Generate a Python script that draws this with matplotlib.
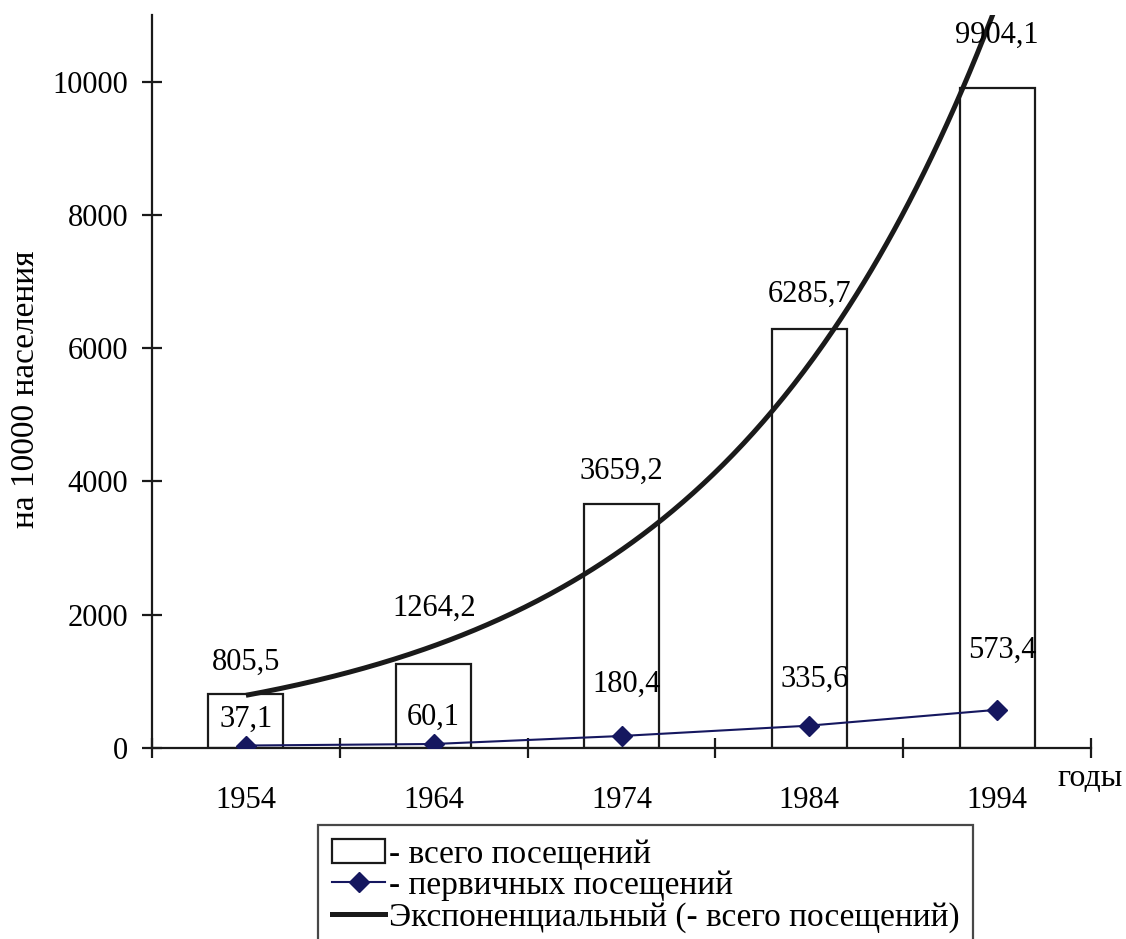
import numpy as np
import matplotlib
matplotlib.use('Agg')
import matplotlib.pyplot as plt
from matplotlib.patches import Rectangle
from matplotlib.lines import Line2D

plt.rcParams['font.family'] = ['Liberation Serif', 'DejaVu Serif']

# data
years = ['1954', '1964', '1974', '1984', '1994']
total_visits = [805.5, 1264.2, 3659.2, 6285.7, 9904.1]
primary_visits = [37.1, 60.1, 180.4, 335.6, 573.4]
total_labels = ['805,5', '1264,2', '3659,2', '6285,7', '9904,1']
primary_labels = ['37,1', '60,1', '180,4', '335,6', '573,4']

# label offsets in points (manual placement as in the original)
total_off = [(0, 23), (0, 40), (0, 24), (0, 25), (0, 38)]
primary_off = [(0, 19), (0, 19), (4, 37), (4, 33), (4, 43)]

NAVY = '#15175f'
INK = '#1a1a1a'

fig = plt.figure(figsize=(11.26, 9.39), dpi=100)
ax = fig.add_axes([152 / 1126, 1 - 748 / 939, (1091 - 152) / 1126, (748 - 15) / 939])

x = np.arange(1, len(years) + 1)

ax.bar(x, total_visits, width=0.4, color='white', edgecolor=INK, linewidth=1.6, zorder=2)
ax.plot(x, primary_visits, color=NAVY, linewidth=1.5, marker='D', markersize=10,
        markerfacecolor=NAVY, markeredgecolor=NAVY, zorder=4)

# exponential trendline (least squares fit on ln y, like Excel)
b, ln_a = np.polyfit(x, np.log(total_visits), 1)
xt = np.linspace(1, 5, 300)
ax.plot(xt, np.exp(ln_a) * np.exp(b * xt), color=INK, linewidth=3.6, zorder=3,
        solid_capstyle='butt')

for xi, v, lab, off in zip(x, total_visits, total_labels, total_off):
    ax.annotate(lab, (xi, v), xytext=off, textcoords='offset points',
                ha='center', va='center', fontsize=22, zorder=5)
for xi, v, lab, off in zip(x, primary_visits, primary_labels, primary_off):
    ax.annotate(lab, (xi, v), xytext=off, textcoords='offset points',
                ha='center', va='center', fontsize=22, zorder=5)

ax.set_xlim(0.5, 5.5)
ax.set_ylim(0, 11000)
ax.set_yticks(np.arange(0, 10001, 2000))
ax.set_xticks(np.arange(0.5, 5.6, 1))
ax.set_xticklabels([])
ax.set_xticks(x, minor=True)
ax.set_xticklabels(years, minor=True)

ax.tick_params(axis='both', which='major', direction='inout', length=14.5, width=1.6,
               labelsize=22, color=INK)
ax.tick_params(axis='y', which='major', pad=10)
ax.tick_params(axis='x', which='minor', length=0, pad=27, labelsize=22)

for s in ['top', 'right']:
    ax.spines[s].set_visible(False)
for s in ['left', 'bottom']:
    ax.spines[s].set_linewidth(1.6)
    ax.spines[s].set_color(INK)

ax.set_ylabel('на 10000 населения', fontsize=24)
ax.yaxis.set_label_coords(-0.118, 0.49, transform=ax.transAxes)
fig.text(1057 / 1126, 1 - 778 / 939, 'годы', fontsize=23, ha='left', va='center')

handles = [
    Rectangle((0, 0), 1, 1, facecolor='white', edgecolor=INK, linewidth=1.6),
    Line2D([], [], color=NAVY, linewidth=1.5, marker='D', markersize=10),
    Line2D([], [], color=INK, linewidth=3.6),
]
labels = ['- всего посещений', '- первичных посещений', 'Экспоненциальный (- всего посещений)']
leg = fig.legend(handles, labels, loc='upper left', bbox_to_anchor=(318 / 1126, 1 - 825 / 939),
                 fontsize=24, frameon=True, fancybox=False, edgecolor=INK,
                 handlelength=1.6, handleheight=0.75, handletextpad=0.1, labelspacing=0.02,
                 borderpad=0.42, borderaxespad=0)
leg.get_frame().set_linewidth(1.6)

fig.savefig('out.png', dpi=100)
